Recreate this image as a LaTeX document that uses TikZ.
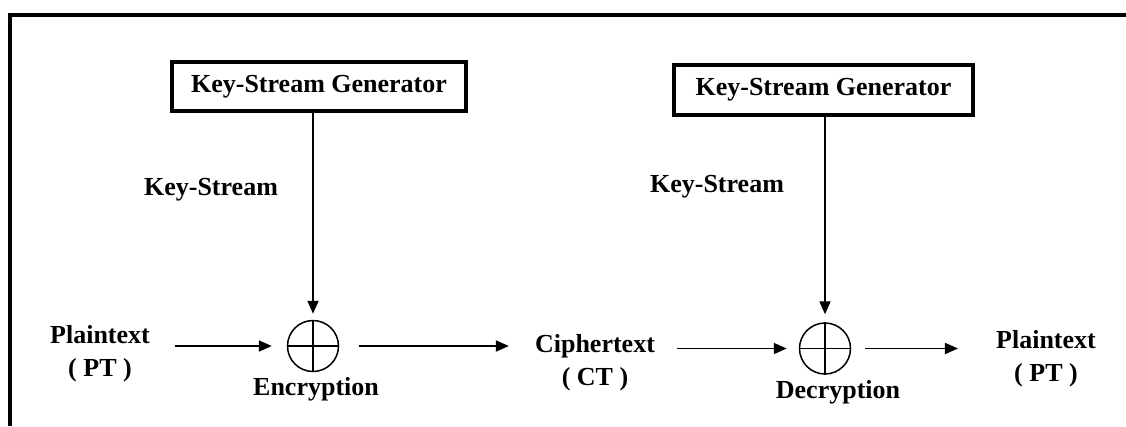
\documentclass[tikz,border=0pt]{standalone}
\usepackage{fontspec}
\setmainfont{Liberation Serif}
\usetikzlibrary{arrows.meta}
\begin{document}
\begin{tikzpicture}[x=1pt,y=-1pt,
  lbl/.style={font=\bfseries\fontsize{26}{33}\selectfont, align=center, inner sep=0pt},
  genbox/.style={draw, line width=4pt, font=\bfseries\fontsize{26}{31}\selectfont, inner sep=0pt},
  xorc/.style={draw, circle, line width=1.5pt, minimum size=51pt, inner sep=0pt},
  flow/.style={line width=1.8pt, -{Triangle[length=13pt,width=11pt]}},
  frame/.style={line width=4pt},
]
\useasboundingbox (0,0) rectangle (1126,426);
\fill[white] (0,0) rectangle (1126,426);
% frame
\coordinate (fbl) at (10,426);
\coordinate (ftl) at (10,15);
\coordinate (ftr) at (1126,15);
\draw[frame] (fbl) -- (ftl) -- (ftr);

% generators
\node[genbox, minimum width=294pt, minimum height=49pt] (gen1) at (319,86.5) {Key-Stream Generator};
\node[genbox, minimum width=299pt, minimum height=50pt] (gen2) at (823.5,90) {Key-Stream Generator};

% labels
\node[lbl] (ks1) at (211,190) {Key-Stream};
\node[lbl] (ks2) at (717,187) {Key-Stream};

% xor circles
\node[xorc] (xor1) at (313,346) {};
\node[xorc] (xor2) at (825,348.5) {};
\draw[line width=1.5pt] (xor1.north) -- (xor1.south) (xor1.west) -- (xor1.east);
\draw[line width=1.5pt] (xor2.north) -- (xor2.south) (xor2.west) -- (xor2.east);

% texts
\node[lbl] (pt1) at (100,354) {Plaintext\\( PT )};
\node[lbl] (ct) at (595,363) {Ciphertext\\( CT )};
\node[lbl] (pt2) at (1046,359) {Plaintext\\( PT )};
\node[lbl] (enc) at (316,389) {Encryption};
\node[lbl] (dec) at (838,392) {Decryption};

% arrows
\draw[flow, shorten >=6pt] (gen1.south -| xor1) -- (xor1.north);
\draw[flow, shorten >=8pt] (gen2.south -| xor2) -- (xor2.north);
\draw[flow, shorten <=25pt, shorten >=15pt] (pt1.east |- xor1) -- (xor1.west);
\draw[flow, shorten <=20pt, shorten >=26pt] (xor1.east) -- (ct.west |- xor1);
\draw[flow, shorten <=22pt, shorten >=12pt] (ct.east |- xor2) -- (xor2.west);
\draw[flow, shorten <=14pt, shorten >=38pt] (xor2.east) -- (pt2.west |- xor2);
\end{tikzpicture}
\end{document}
